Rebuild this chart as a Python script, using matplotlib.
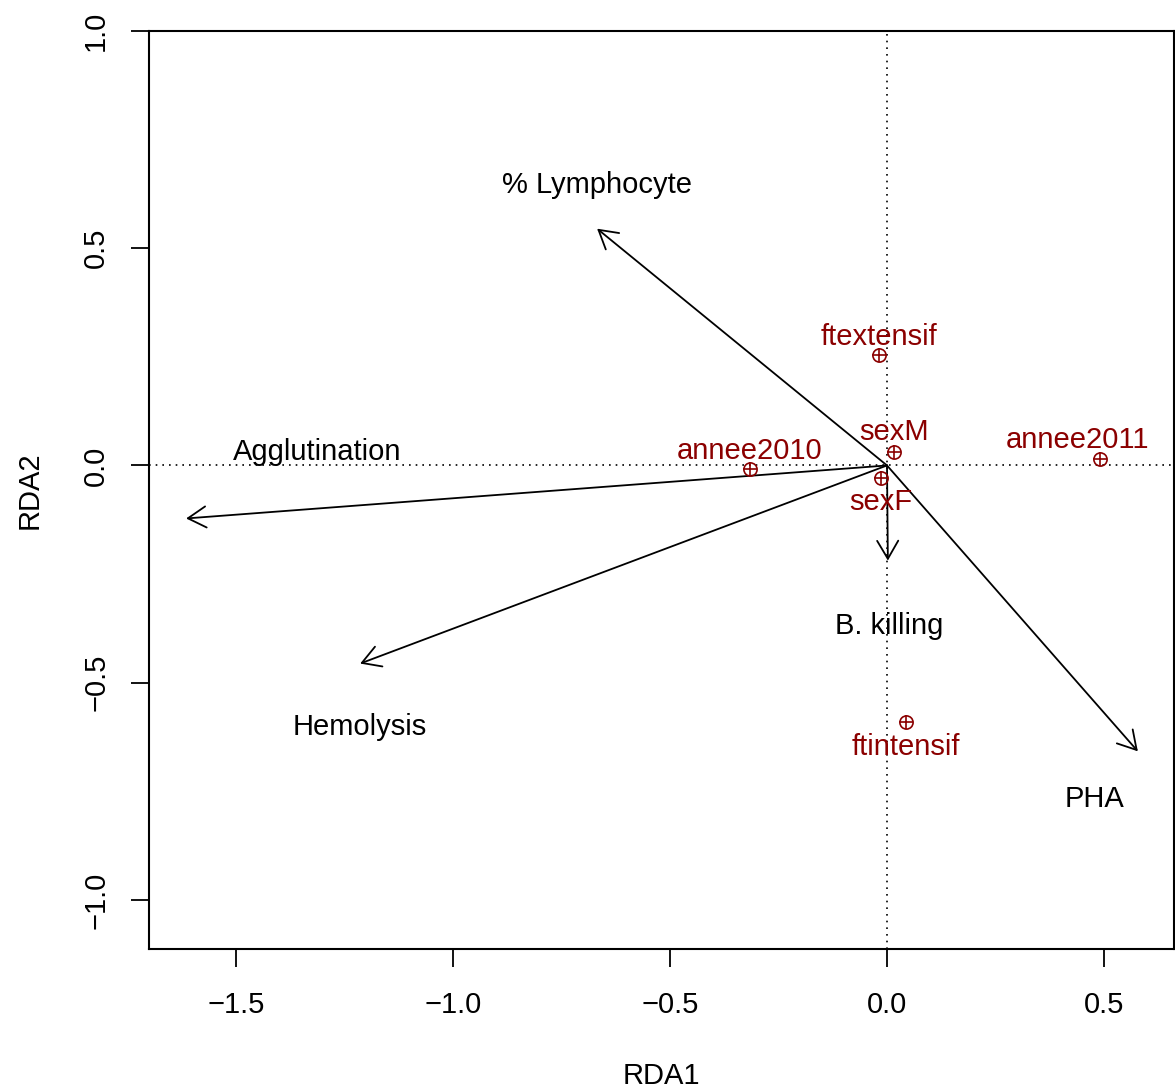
import matplotlib
matplotlib.use("Agg")
import matplotlib.pyplot as plt

plt.rcParams['font.family'] = ['Liberation Sans', 'DejaVu Sans']

# Biplot arrows (response variables)
arrow_names = ["% Lymphocyte", "Agglutination", "Hemolysis", "B. killing", "PHA"]
arrow_x = [-0.668, -1.615, -1.214, 0.002, 0.578]
arrow_y = [0.545, -0.122, -0.456, -0.219, -0.658]
arrow_label_x = [-0.668, -1.313, -1.214, 0.005, 0.477]
arrow_label_y = [0.646, 0.030, -0.603, -0.369, -0.767]

# Factor centroids
cent_names = ["ftextensif", "sexM", "annee2011", "annee2010", "sexF", "ftintensif"]
cent_x = [-0.018, 0.016, 0.491, -0.316, -0.014, 0.044]
cent_y = [0.255, 0.032, 0.016, -0.009, -0.028, -0.591]
cent_label_x = [-0.018, 0.016, 0.440, -0.316, -0.014, 0.044]
cent_label_y = [0.296, 0.076, 0.059, 0.034, -0.083, -0.647]

xticks = [-1.5, -1.0, -0.5, 0.0, 0.5]
yticks = [-1.0, -0.5, 0.0, 0.5, 1.0]

W, H = 1175, 1090
fig = plt.figure(figsize=(W / 100, H / 100), dpi=100)
ax = fig.add_axes([149 / W, 1 - 949 / H, (1174 - 149) / W, (949 - 31) / H])
ax.set_xlim(-1.7005, 0.6613)
ax.set_ylim(-1.113, 1.0)

FS = 21
red = "#8B0000"

ax.axhline(0, color="black", lw=1.2, ls=(0, (1, 3)), zorder=1)
ax.axvline(0, color="black", lw=1.2, ls=(0, (1, 3)), zorder=1)

for xe, ye in zip(arrow_x, arrow_y):
    ax.annotate("", xy=(xe, ye), xytext=(0, 0),
                arrowprops=dict(arrowstyle="->,head_length=0.65,head_width=0.38",
                                lw=1.3, color="black", shrinkA=0, shrinkB=0,
                                mutation_scale=20), zorder=3)
for name, lx, ly in zip(arrow_names, arrow_label_x, arrow_label_y):
    ax.text(lx, ly, name, ha="center", va="center", fontsize=FS, color="black")

ax.plot(cent_x, cent_y, ls="none", marker="o", ms=9.5, mfc="none", mec=red, mew=1.2, zorder=4)
ax.plot(cent_x, cent_y, ls="none", marker="+", ms=9.5, mec=red, mew=1.2, zorder=4)
for name, lx, ly in zip(cent_names, cent_label_x, cent_label_y):
    ax.text(lx, ly, name, ha="center", va="center", fontsize=FS, color=red)

ax.set_xticks(xticks)
ax.set_xticklabels(["\u22121.5", "\u22121.0", "\u22120.5", "0.0", "0.5"])
ax.set_yticks(yticks)
ax.set_yticklabels(["\u22121.0", "\u22120.5", "0.0", "0.5", "1.0"], rotation=90, va="center")
ax.tick_params(axis="both", length=13, width=1.3, labelsize=FS)
ax.tick_params(axis="x", pad=17)
ax.tick_params(axis="y", pad=15)
for s in ax.spines.values():
    s.set_linewidth(1.5)

fig.text(661.5 / W, 1 - 1076 / H, "RDA1", ha="center", va="center", fontsize=FS)
fig.text(30 / W, 1 - 490 / H, "RDA2", ha="center", va="center", fontsize=FS, rotation=90)

fig.savefig("out.png", dpi=100)
